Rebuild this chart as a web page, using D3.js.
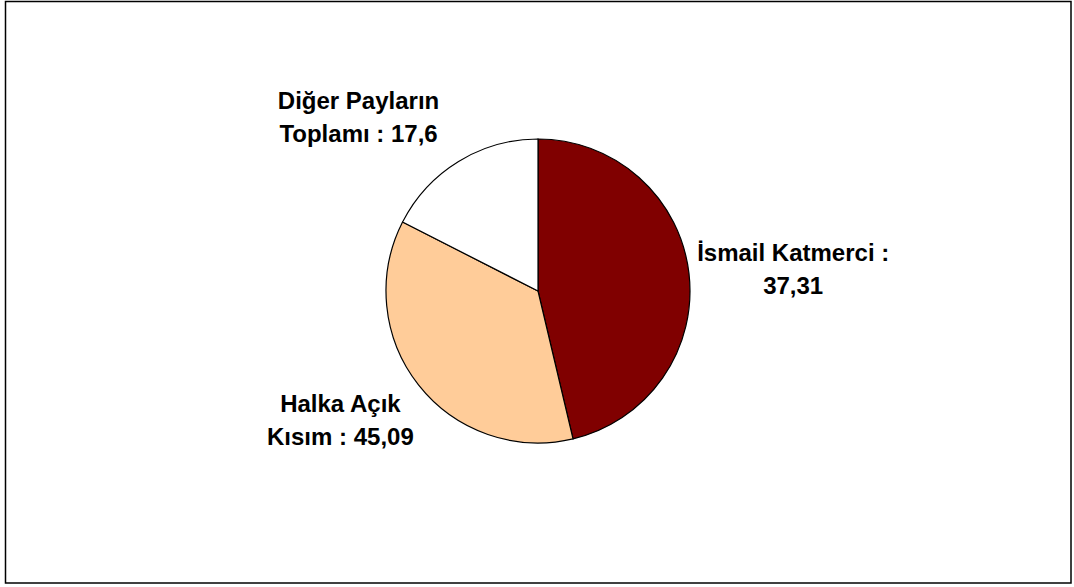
<!DOCTYPE html>
<html>
<head>
<meta charset="utf-8">
<script src="https://cdn.jsdelivr.net/npm/d3@7"></script>
<style>
  body { margin: 0; background: #fff; }
  text { font-family: "Liberation Sans", Arial, sans-serif; font-weight: bold; }
</style>
</head>
<body>
<div id="pie"></div>
<script>
// slice sizes as drawn (percent), clockwise from 12 o'clock
const sliceValues = [46.3, 36.2, 17.5];
const sliceColors = ["#800000", "#FFCC99", "#FFFFFF"];
// label text shown next to each slice (two lines each)
const sliceLabels = [
  ["İsmail Katmerci :", "37,31"],
  ["Halka Açık", "Kısım : 45,09"],
  ["Diğer Payların", "Toplamı : 17,6"]
];

const width = 1074;
const height = 587;
const cx = 538, cy = 291, radius = 152;

const svg = d3.select("#pie")
    .append("svg")
    .attr("width", width)
    .attr("height", height);

// chart frame
svg.append("rect")
    .attr("x", 5.5)
    .attr("y", 1.5)
    .attr("width", 1065.5)
    .attr("height", 581.5)
    .attr("fill", "#fff")
    .attr("stroke", "#000")
    .attr("stroke-width", 1.5);

const g = svg.append("g")
    .attr("transform", `translate(${cx},${cy})`);

const pie = d3.pie().sort(null).value(d => d);
const arcs = pie(sliceValues);

const arc = d3.arc().innerRadius(0).outerRadius(radius);

g.selectAll(".slice")
    .data(arcs)
    .enter().append("path")
    .attr("class", "slice")
    .attr("d", arc)
    .attr("fill", (d, i) => sliceColors[i])
    .attr("stroke", "#000")
    .attr("stroke-width", 1.2);

// labels: placed just outside the pie, pushed away from the centre
const fontSize = 24;
const lineH = 33;
const labelR = radius + 6;

arcs.forEach((d, i) => {
  const a = (d.startAngle + d.endAngle) / 2;
  const s = Math.sin(a), c = Math.cos(a);
  const px = s * labelR;
  const py = -c * labelR;

  const t = g.append("text")
      .attr("font-size", fontSize)
      .attr("text-anchor", "middle")
      .attr("fill", "#000");

  sliceLabels[i].forEach((line, k) => {
    t.append("tspan")
        .attr("x", 0)
        .attr("y", k * lineH)
        .text(line);
  });

  const box = t.node().getBBox();
  const w = box.width;
  const h = box.height;
  const bx = px + Math.sign(s) * (w / 2 + Math.max(c, 0) * 19);
  const by = py - c * (h / 2 + 18) + 2;
  // shift so the block centre sits at (bx, by)
  const midY = box.y + h / 2;
  t.attr("transform", `translate(${bx},${by - midY})`);
});
</script>
</body>
</html>
